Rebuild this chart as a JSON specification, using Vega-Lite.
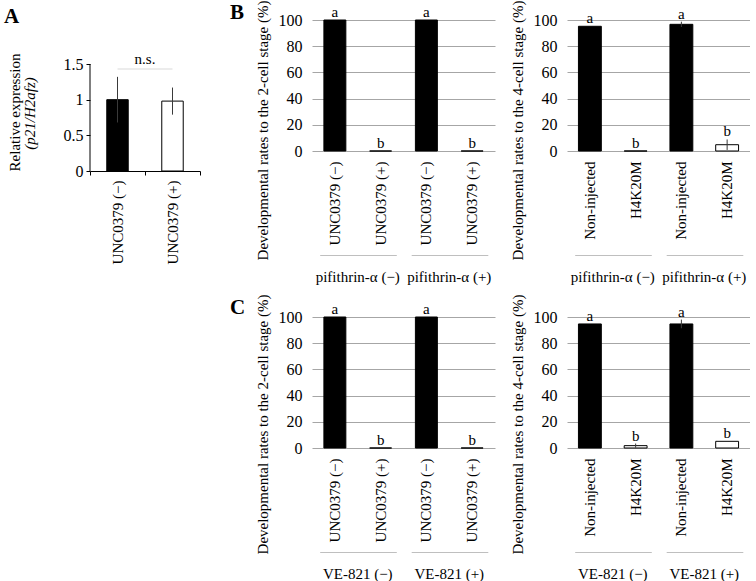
{
  "$schema": "https://vega.github.io/schema/vega-lite/v6.json",
  "padding": {"left": 4, "top": 0, "right": 0, "bottom": 0},
  "config": {
    "font": "Liberation Serif",
    "view": {"stroke": null},
    "axis": {"labelFont": "Liberation Serif", "titleFont": "Liberation Serif", "labelColor": "#000", "titleColor": "#000", "titleFontWeight": "normal"},
    "title": {"font": "Liberation Serif", "fontSize": 21, "fontWeight": "bold", "anchor": "start", "frame": "group", "color": "#000", "offset": 0},
    "text": {"font": "Liberation Serif", "fontSize": 15, "color": "#000"}
  },
  "spacing": 29,
  "hconcat": [
    {
      "width": 110,
      "height": 151,
      "title": {"text": "A", "dx": -86, "offset": -7},
      "resolve": {"axis": {"y": "independent"}},
      "layer": [
        {
          "data": {"values": [
            {"k": "1|UNC0379 (−)", "t": "ctl", "v": 1.0, "lo": 0.68, "hi": 1.32},
            {"k": "2|UNC0379 (+)", "t": "trt", "v": 0.98, "lo": 0.79, "hi": 1.17}
          ]},
          "mark": {"type": "bar", "width": {"band": 0.39}, "stroke": "#000", "strokeWidth": 1},
          "encoding": {
            "x": {"field": "k", "type": "nominal", "scale": {"paddingInner": 0, "paddingOuter": 0},
              "axis": {"title": null, "labelExpr": "split(datum.label, '|')[1]", "labelAngle": -90, "labelFontSize": 15, "labelPadding": 5, "domainColor": "#000", "tickColor": "#000", "tickSize": 4, "bandPosition": 1, "tickExtra": true, "grid": false}},
            "y": {"field": "v", "type": "quantitative", "scale": {"domain": [0, 2.117], "nice": false},
              "axis": {"values": [0, 0.5, 1, 1.5], "format": "~g", "grid": false, "domainOpacity": 0, "tickColor": "#000", "tickSize": 4, "labelPadding": 3, "labelFontSize": 16, "labelOverlap": false, "offset": 0,
                "title": "Relative expression", "titleFontSize": 15, "titleAngle": 270, "titleX": -71, "titleY": 92, "titleAlign": "center", "titleBaseline": "alphabetic"}},
            "fill": {"field": "t", "type": "nominal", "scale": {"domain": ["ctl", "trt"], "range": ["#000", "#fff"]}, "legend": null}
          }
        },
        {
          "data": {"values": [
            {"k": "1|UNC0379 (−)", "t": "ctl", "v": 1.0, "lo": 0.68, "hi": 1.32},
            {"k": "2|UNC0379 (+)", "t": "trt", "v": 0.98, "lo": 0.79, "hi": 1.17}
          ]},
          "mark": {"type": "rule", "color": "#3a3a3a", "strokeWidth": 1},
          "encoding": {
            "x": {"field": "k", "type": "nominal"},
            "y": {"field": "lo", "type": "quantitative",
              "axis": {"title": "(p21/H2afz)", "titleFontStyle": "italic", "labels": false, "ticks": false, "domain": false, "grid": false, "offset": 0,
                "titleFontSize": 15, "titleAngle": 270, "titleX": -166, "titleY": 93, "titleAlign": "center", "titleBaseline": "alphabetic"}},
            "y2": {"field": "hi"}
          }
        },
        {
          "data": {"values": [{"k": "1|UNC0379 (−)", "from": 0, "to": 1.5}]},
          "mark": {"type": "rule", "color": "#000", "strokeWidth": 1},
          "encoding": {
            "x": {"field": "k", "type": "nominal", "bandPosition": 0},
            "y": {"field": "from", "type": "quantitative", "axis": null},
            "y2": {"field": "to"}
          }
        },
        {
          "data": {"values": [{"k1": "1|UNC0379 (−)", "k2": "2|UNC0379 (+)", "t": "n.s."}]},
          "mark": {"type": "rule", "color": "#d9d9d9", "strokeWidth": 1},
          "encoding": {
            "x": {"field": "k1", "type": "nominal"},
            "x2": {"field": "k2"},
            "y": {"datum": 1.43, "axis": null}
          }
        },
        {
          "data": {"values": [{"k1": "1|UNC0379 (−)", "k2": "2|UNC0379 (+)", "t": "n.s."}]},
          "mark": {"type": "text", "dy": -5, "baseline": "alphabetic", "fontSize": 15},
          "encoding": {
            "x": {"field": "k2", "type": "nominal", "bandPosition": 0},
            "y": {"datum": 1.43, "axis": null},
            "text": {"field": "t"}
          }
        }
      ]
    },
    {
      "spacing": 10,
      "vconcat": [
        {
          "spacing": 14,
          "hconcat": [
            {
              "width": 183,
              "height": 131,
              "title": {"text": "B", "dx": -82, "offset": -23},
              "resolve": {"scale": {"x": "independent"}},
              "layer": [
                {
                  "data": {"values": [
                    {"k": "1|UNC0379 (−)", "t": "ctl", "v": 100, "lo": 100, "hi": 100, "lab": "a"},
                    {"k": "2|UNC0379 (+)", "t": "trt", "v": 0, "lo": 0, "hi": 0, "lab": "b"},
                    {"k": "3|UNC0379 (−)", "t": "ctl", "v": 100, "lo": 100, "hi": 100, "lab": "a"},
                    {"k": "4|UNC0379 (+)", "t": "trt", "v": 0, "lo": 0, "hi": 0, "lab": "b"}
                  ]},
                  "resolve": {"axis": {"y": "independent"}},
                  "layer": [
                    {
                      "mark": {"type": "bar", "width": {"band": 0.48}, "stroke": "#000", "strokeWidth": 1},
                      "encoding": {
                        "x": {"field": "k", "type": "nominal", "scale": {"paddingInner": 0, "paddingOuter": 0},
                          "axis": {"orient": "bottom", "offset": 0, "title": null, "labelExpr": "split(datum.label, '|')[1]", "labelAngle": -90, "labelFontSize": 15, "labelPadding": 10, "ticks": false, "tickSize": 0, "domain": false, "grid": false}},
                        "y": {"field": "v", "type": "quantitative", "scale": {"domain": [0, 100], "nice": false},
                          "axis": {"values": [0, 20, 40, 60, 80, 100], "labelOverlap": false, "grid": true, "gridColor": "#a6a6a6", "domain": false, "ticks": false, "tickSize": 0, "labelPadding": 10, "labelFontSize": 16,
                            "title": "Developmental rates to the 2-cell stage (%)", "titleFontSize": 15, "titleAngle": 270, "titleX": -45, "titleY": 110, "titleAlign": "center", "titleBaseline": "alphabetic"}},
                        "fill": {"field": "t", "type": "nominal", "scale": {"domain": ["ctl", "trt"], "range": ["#000", "#fff"]}, "legend": null}
                      }
                    },
                    {
                      "mark": {"type": "rule", "color": "#3a3a3a"},
                      "encoding": {"x": {"field": "k", "type": "nominal"}, "y": {"field": "lo", "type": "quantitative", "axis": null}, "y2": {"field": "hi"}}
                    },
                    {
                      "mark": {"type": "text", "dy": -3, "baseline": "alphabetic", "fontSize": 15},
                      "encoding": {"x": {"field": "k", "type": "nominal"}, "y": {"field": "hi", "type": "quantitative", "axis": null}, "text": {"field": "lab"}}
                    }
                  ]
                },
                {
                  "data": {"values": [{"g": "pifithrin-α (−)"}, {"g": "pifithrin-α (+)"}]},
                  "mark": {"type": "point", "opacity": 0},
                  "encoding": {
                    "x": {"field": "g", "type": "nominal", "sort": null, "scale": {"type": "band", "paddingInner": 0, "paddingOuter": 0},
                      "axis": {"orient": "bottom", "offset": 104, "title": null, "ticks": false, "tickSize": 0, "labelPadding": 14, "labelFontSize": 15, "labelAngle": 0, "grid": false, "domainColor": "#bfbfbf", "domainDash": [76.6, 14.9], "domainDashOffset": 83.8}}
                  }
                }
              ]
            },
            {
              "width": 183,
              "height": 131,
              "resolve": {"scale": {"x": "independent"}},
              "layer": [
                {
                  "data": {"values": [
                    {"k": "1|Non-injected", "t": "ctl", "v": 95.2, "lo": 95.2, "hi": 95.2, "lab": "a"},
                    {"k": "2|H4K20M", "t": "trt", "v": 0, "lo": 0, "hi": 0, "lab": "b"},
                    {"k": "3|Non-injected", "t": "ctl", "v": 96.7, "lo": 94.7, "hi": 98.7, "lab": "a"},
                    {"k": "4|H4K20M", "t": "trt", "v": 4.8, "lo": 0.8, "hi": 8.8, "lab": "b"}
                  ]},
                  "resolve": {"axis": {"y": "independent"}},
                  "layer": [
                    {
                      "mark": {"type": "bar", "width": {"band": 0.5}, "stroke": "#000", "strokeWidth": 1},
                      "encoding": {
                        "x": {"field": "k", "type": "nominal", "scale": {"paddingInner": 0, "paddingOuter": 0},
                          "axis": {"orient": "bottom", "offset": 0, "title": null, "labelExpr": "split(datum.label, '|')[1]", "labelAngle": -90, "labelFontSize": 15, "labelPadding": 10, "ticks": false, "tickSize": 0, "domain": false, "grid": false}},
                        "y": {"field": "v", "type": "quantitative", "scale": {"domain": [0, 100], "nice": false},
                          "axis": {"values": [0, 20, 40, 60, 80, 100], "labelOverlap": false, "grid": true, "gridColor": "#a6a6a6", "domain": false, "ticks": false, "tickSize": 0, "labelPadding": 10, "labelFontSize": 16,
                            "title": "Developmental rates to the 4-cell stage (%)", "titleFontSize": 15, "titleAngle": 270, "titleX": -45, "titleY": 110, "titleAlign": "center", "titleBaseline": "alphabetic"}},
                        "fill": {"field": "t", "type": "nominal", "scale": {"domain": ["ctl", "trt"], "range": ["#000", "#fff"]}, "legend": null}
                      }
                    },
                    {
                      "mark": {"type": "rule", "color": "#3a3a3a"},
                      "encoding": {"x": {"field": "k", "type": "nominal"}, "y": {"field": "lo", "type": "quantitative", "axis": null}, "y2": {"field": "hi"}}
                    },
                    {
                      "mark": {"type": "text", "dy": -3, "baseline": "alphabetic", "fontSize": 15},
                      "encoding": {"x": {"field": "k", "type": "nominal"}, "y": {"field": "hi", "type": "quantitative", "axis": null}, "text": {"field": "lab"}}
                    }
                  ]
                },
                {
                  "data": {"values": [{"g": "pifithrin-α (−)"}, {"g": "pifithrin-α (+)"}]},
                  "mark": {"type": "point", "opacity": 0},
                  "encoding": {
                    "x": {"field": "g", "type": "nominal", "sort": null, "scale": {"type": "band", "paddingInner": 0, "paddingOuter": 0},
                      "axis": {"orient": "bottom", "offset": 104, "title": null, "ticks": false, "tickSize": 0, "labelPadding": 14, "labelFontSize": 15, "labelAngle": 0, "grid": false, "domainColor": "#bfbfbf", "domainDash": [76.6, 14.9], "domainDashOffset": 83.8}}
                  }
                }
              ]
            }
          ]
        },
        {
          "spacing": 14,
          "hconcat": [
            {
              "width": 183,
              "height": 131,
              "title": {"text": "C", "dx": -82, "offset": -24},
              "resolve": {"scale": {"x": "independent"}},
              "layer": [
                {
                  "data": {"values": [
                    {"k": "1|UNC0379 (−)", "t": "ctl", "v": 100, "lo": 100, "hi": 100, "lab": "a"},
                    {"k": "2|UNC0379 (+)", "t": "trt", "v": 0, "lo": 0, "hi": 0, "lab": "b"},
                    {"k": "3|UNC0379 (−)", "t": "ctl", "v": 100, "lo": 100, "hi": 100, "lab": "a"},
                    {"k": "4|UNC0379 (+)", "t": "trt", "v": 0, "lo": 0, "hi": 0, "lab": "b"}
                  ]},
                  "resolve": {"axis": {"y": "independent"}},
                  "layer": [
                    {
                      "mark": {"type": "bar", "width": {"band": 0.48}, "stroke": "#000", "strokeWidth": 1},
                      "encoding": {
                        "x": {"field": "k", "type": "nominal", "scale": {"paddingInner": 0, "paddingOuter": 0},
                          "axis": {"orient": "bottom", "offset": 0, "title": null, "labelExpr": "split(datum.label, '|')[1]", "labelAngle": -90, "labelFontSize": 15, "labelPadding": 10, "ticks": false, "tickSize": 0, "domain": false, "grid": false}},
                        "y": {"field": "v", "type": "quantitative", "scale": {"domain": [0, 100], "nice": false},
                          "axis": {"values": [0, 20, 40, 60, 80, 100], "labelOverlap": false, "grid": true, "gridColor": "#a6a6a6", "domain": false, "ticks": false, "tickSize": 0, "labelPadding": 10, "labelFontSize": 16,
                            "title": "Developmental rates to the 2-cell stage (%)", "titleFontSize": 15, "titleAngle": 270, "titleX": -45, "titleY": 107, "titleAlign": "center", "titleBaseline": "alphabetic"}},
                        "fill": {"field": "t", "type": "nominal", "scale": {"domain": ["ctl", "trt"], "range": ["#000", "#fff"]}, "legend": null}
                      }
                    },
                    {
                      "mark": {"type": "rule", "color": "#3a3a3a"},
                      "encoding": {"x": {"field": "k", "type": "nominal"}, "y": {"field": "lo", "type": "quantitative", "axis": null}, "y2": {"field": "hi"}}
                    },
                    {
                      "mark": {"type": "text", "dy": -3, "baseline": "alphabetic", "fontSize": 15},
                      "encoding": {"x": {"field": "k", "type": "nominal"}, "y": {"field": "hi", "type": "quantitative", "axis": null}, "text": {"field": "lab"}}
                    }
                  ]
                },
                {
                  "data": {"values": [{"g": "VE-821 (−)"}, {"g": "VE-821 (+)"}]},
                  "mark": {"type": "point", "opacity": 0},
                  "encoding": {
                    "x": {"field": "g", "type": "nominal", "sort": null, "scale": {"type": "band", "paddingInner": 0, "paddingOuter": 0},
                      "axis": {"orient": "bottom", "offset": 104, "title": null, "ticks": false, "tickSize": 0, "labelPadding": 14, "labelFontSize": 15, "labelAngle": 0, "grid": false, "domainColor": "#bfbfbf", "domainDash": [76.6, 14.9], "domainDashOffset": 83.8}}
                  }
                }
              ]
            },
            {
              "width": 183,
              "height": 131,
              "resolve": {"scale": {"x": "independent"}},
              "layer": [
                {
                  "data": {"values": [
                    {"k": "1|Non-injected", "t": "ctl", "v": 94.7, "lo": 94.7, "hi": 94.7, "lab": "a"},
                    {"k": "2|H4K20M", "t": "trt", "v": 1.8, "lo": 0.2, "hi": 3.4, "lab": "b"},
                    {"k": "3|Non-injected", "t": "ctl", "v": 94.7, "lo": 91.4, "hi": 98.0, "lab": "a"},
                    {"k": "4|H4K20M", "t": "trt", "v": 5.1, "lo": 5.1, "hi": 5.1, "lab": "b"}
                  ]},
                  "resolve": {"axis": {"y": "independent"}},
                  "layer": [
                    {
                      "mark": {"type": "bar", "width": {"band": 0.5}, "stroke": "#000", "strokeWidth": 1},
                      "encoding": {
                        "x": {"field": "k", "type": "nominal", "scale": {"paddingInner": 0, "paddingOuter": 0},
                          "axis": {"orient": "bottom", "offset": 0, "title": null, "labelExpr": "split(datum.label, '|')[1]", "labelAngle": -90, "labelFontSize": 15, "labelPadding": 10, "ticks": false, "tickSize": 0, "domain": false, "grid": false}},
                        "y": {"field": "v", "type": "quantitative", "scale": {"domain": [0, 100], "nice": false},
                          "axis": {"values": [0, 20, 40, 60, 80, 100], "labelOverlap": false, "grid": true, "gridColor": "#a6a6a6", "domain": false, "ticks": false, "tickSize": 0, "labelPadding": 10, "labelFontSize": 16,
                            "title": "Developmental rates to the 4-cell stage (%)", "titleFontSize": 15, "titleAngle": 270, "titleX": -45, "titleY": 107, "titleAlign": "center", "titleBaseline": "alphabetic"}},
                        "fill": {"field": "t", "type": "nominal", "scale": {"domain": ["ctl", "trt"], "range": ["#000", "#fff"]}, "legend": null}
                      }
                    },
                    {
                      "mark": {"type": "rule", "color": "#3a3a3a"},
                      "encoding": {"x": {"field": "k", "type": "nominal"}, "y": {"field": "lo", "type": "quantitative", "axis": null}, "y2": {"field": "hi"}}
                    },
                    {
                      "mark": {"type": "text", "dy": -3, "baseline": "alphabetic", "fontSize": 15},
                      "encoding": {"x": {"field": "k", "type": "nominal"}, "y": {"field": "hi", "type": "quantitative", "axis": null}, "text": {"field": "lab"}}
                    }
                  ]
                },
                {
                  "data": {"values": [{"g": "VE-821 (−)"}, {"g": "VE-821 (+)"}]},
                  "mark": {"type": "point", "opacity": 0},
                  "encoding": {
                    "x": {"field": "g", "type": "nominal", "sort": null, "scale": {"type": "band", "paddingInner": 0, "paddingOuter": 0},
                      "axis": {"orient": "bottom", "offset": 104, "title": null, "ticks": false, "tickSize": 0, "labelPadding": 14, "labelFontSize": 15, "labelAngle": 0, "grid": false, "domainColor": "#bfbfbf", "domainDash": [76.6, 14.9], "domainDashOffset": 83.8}}
                  }
                }
              ]
            }
          ]
        }
      ]
    }
  ]
}
